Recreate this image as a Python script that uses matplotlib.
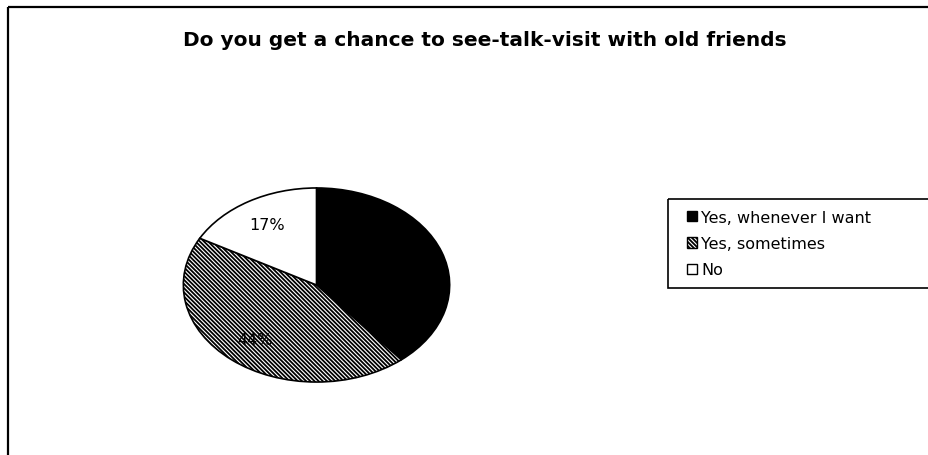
import matplotlib
matplotlib.use("Agg")
from matplotlib import pyplot as plt
from matplotlib.patches import Rectangle, Patch

plt.rcParams['font.family'] = ['DejaVu Sans']
plt.rcParams['hatch.linewidth'] = 1.3

title = "Do you get a chance to see-talk-visit with old friends"
answers = ["Yes, whenever I want", "Yes, sometimes", "No"]
shares = [39, 44, 17]
fills = ["black", "white", "white"]
hatches = [None, "\\" * 8, None]

W, H = 929, 456
fig = plt.figure(figsize=(W / 100, H / 100), dpi=100)

# background layer in pixel units for the chart frame, title and legend box
bg = fig.add_axes([0, 0, 1, 1])
bg.set_xlim(0, W)
bg.set_ylim(H, 0)
bg.axis("off")
bg.add_patch(Rectangle((8, 8), W + 20, H + 20, fill=False, edgecolor="black", linewidth=1.6))
bg.add_patch(Rectangle((668, 200), W, 89, fill=False, edgecolor="black", linewidth=1.2))
bg.text(485, 40, title, ha="center", va="center", fontsize=14.5, fontweight="bold")

# pie drawn squashed: 134 px wide radius, 98 px tall radius
cx, cy, rx, ry = 316.5, 286, 134.5, 98
pax = fig.add_axes([(cx - rx) / W, (H - cy - ry) / H, 2 * rx / W, 2 * ry / H])
wedges, texts, autotexts = pax.pie(
    shares, startangle=90, counterclock=False, colors=fills,
    autopct="%d%%", pctdistance=0.73,
    wedgeprops=dict(edgecolor="black", linewidth=1.2),
    textprops=dict(fontsize=11.5, color="black"))
for w, h in zip(wedges, hatches):
    if h:
        w.set_hatch(h)
pax.set_aspect("auto")
pax.set_xlim(-1.01, 1.01)
pax.set_ylim(-1.01, 1.01)
pax.axis("off")

handles = [Patch(facecolor=f, edgecolor="black", hatch=h, linewidth=1.0)
           for f, h in zip(fills, hatches)]
fig.legend(handles, answers, loc="upper left", frameon=False,
           bbox_to_anchor=(687 / W, 1 - 211 / H),
           fontsize=11.5, handlelength=0.6, handleheight=0.6, handletextpad=0.3,
           labelspacing=0.7, borderpad=0, borderaxespad=0)

fig.savefig("out.png", dpi=100)
